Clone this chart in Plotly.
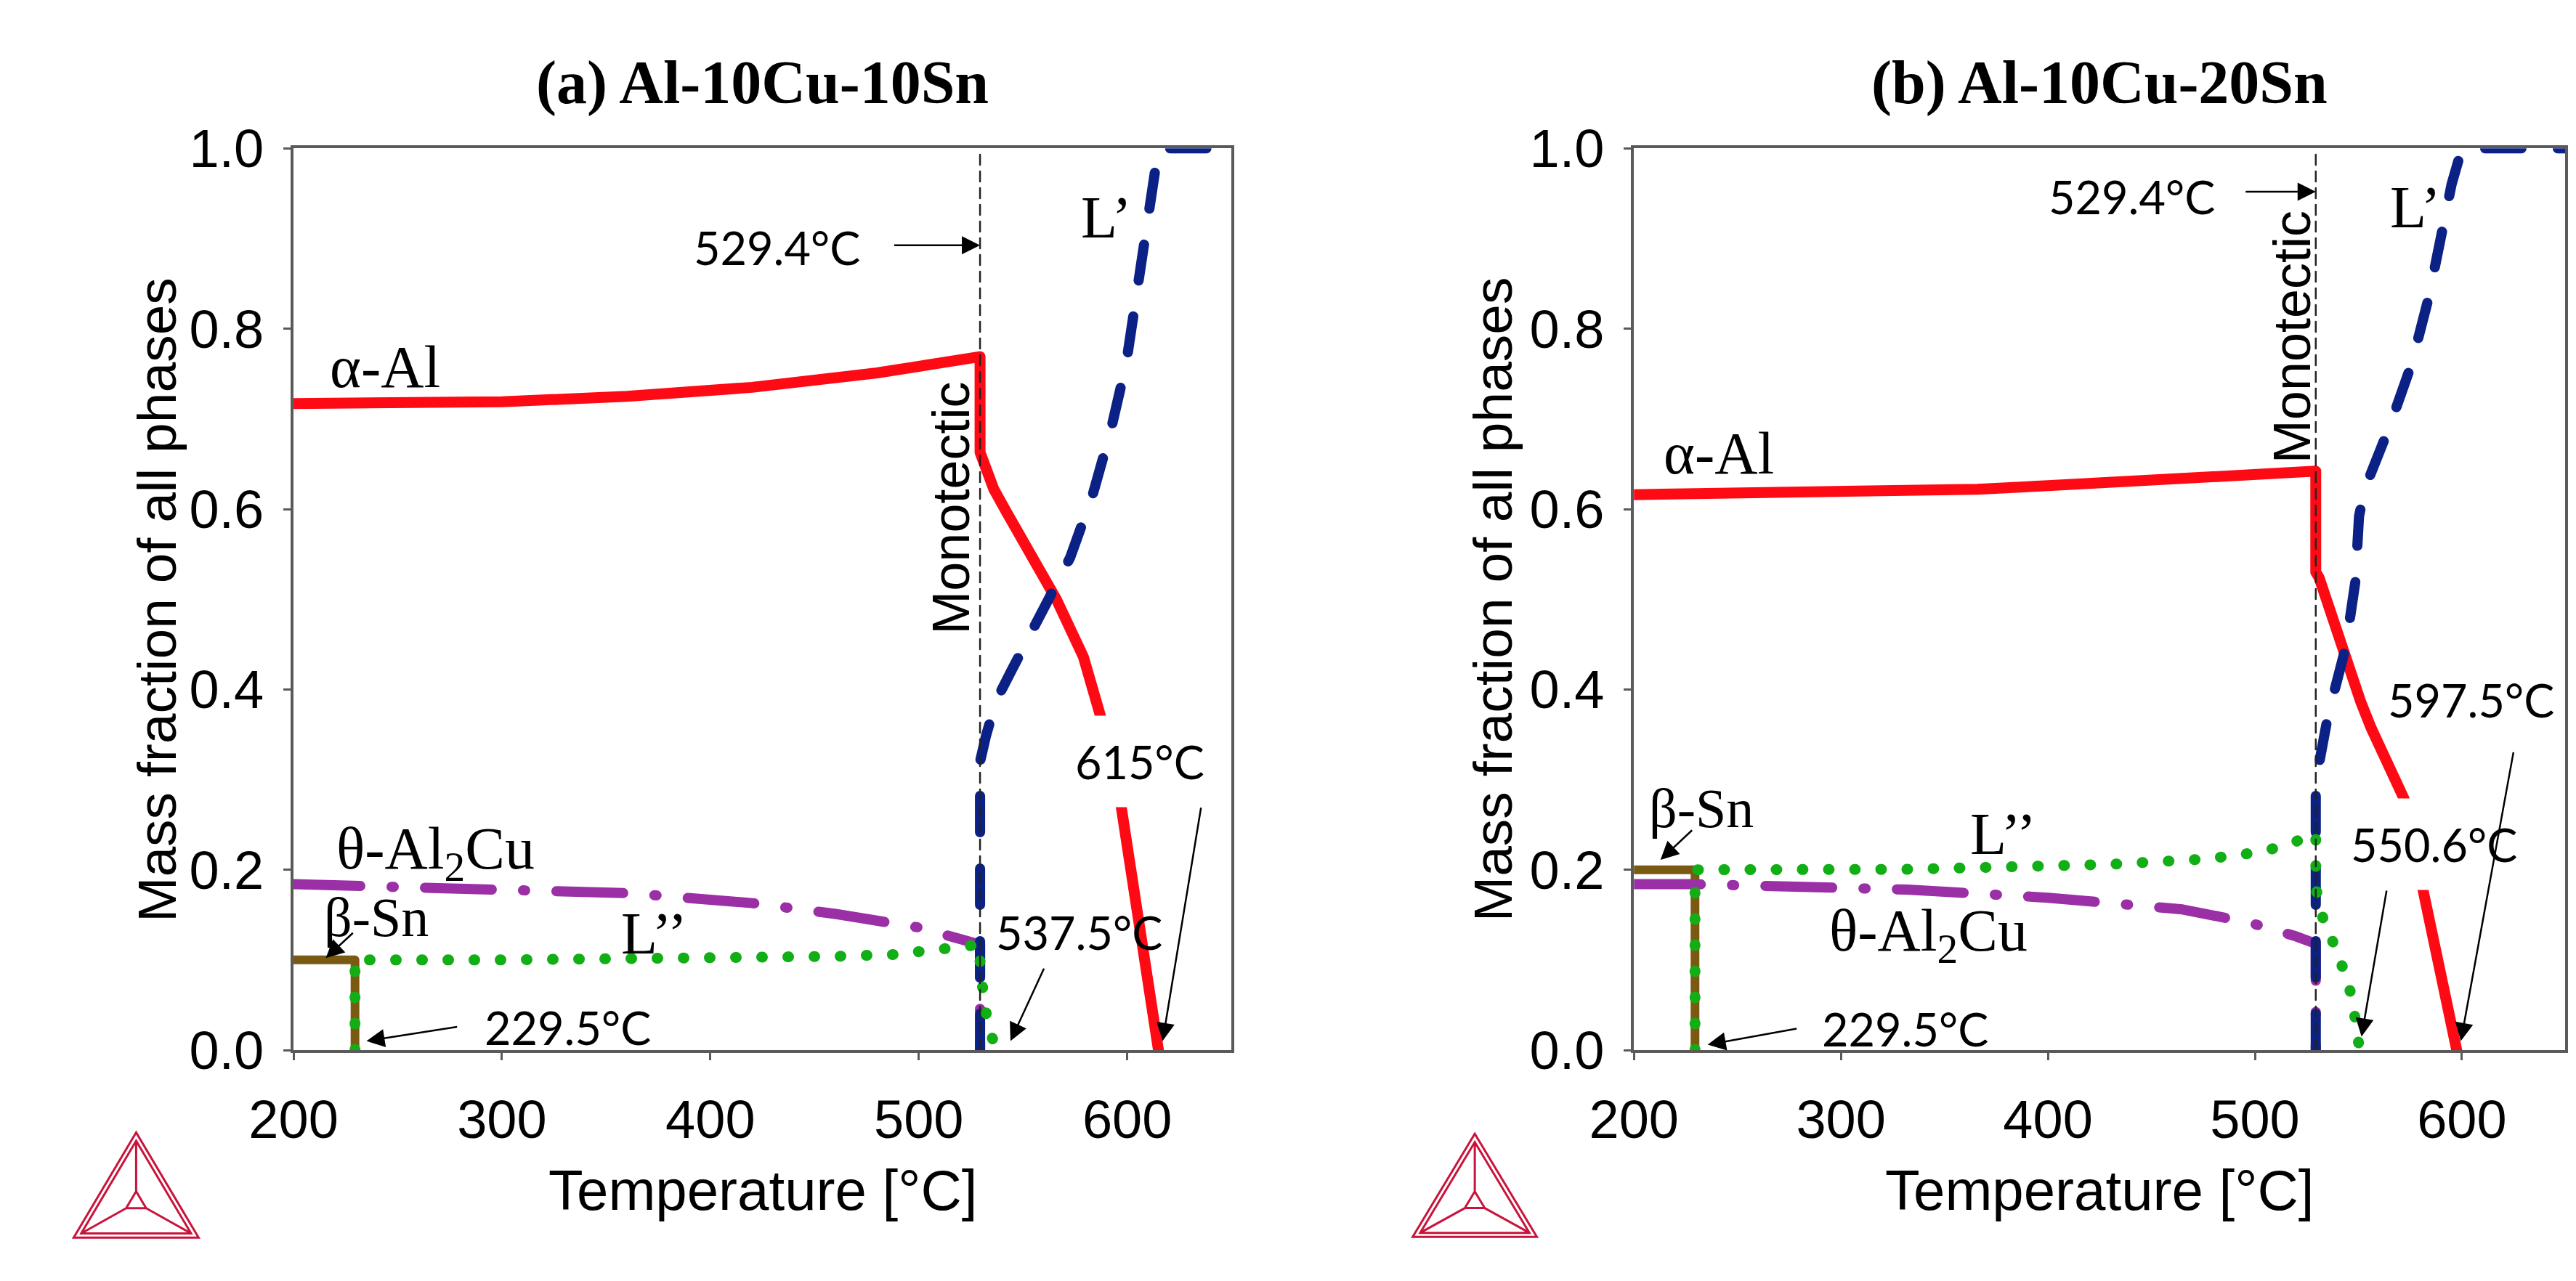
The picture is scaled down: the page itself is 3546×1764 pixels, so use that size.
import plotly.graph_objects as go

# ---- data ----
T_MONO = 529.4

# (a) Al-10Cu-10Sn
alpha_a_T = [200, 250, 300, 360, 420, 480, 510, 529.4, 529.4, 536, 542, 566, 579, 587, 597, 606, 615]
alpha_a_f = [0.717, 0.717, 0.719, 0.725, 0.735, 0.751, 0.761, 0.769, 0.663, 0.622, 0.597, 0.500, 0.436, 0.372, 0.272, 0.135, 0.0]
liq1_a_T = [529.4, 529.4, 532.2, 537, 544.5, 556.7, 572.6, 583.6, 592.2, 599.5, 604.4, 609.3, 613, 615, 650]
liq1_a_f = [0.0, 0.32, 0.348, 0.387, 0.421, 0.477, 0.546, 0.617, 0.688, 0.761, 0.837, 0.911, 0.985, 1.0, 1.0]
theta_a_T = [200, 282, 361, 420, 460, 500, 519, 529.4, 529.4]
theta_a_f = [0.184, 0.180, 0.174, 0.163, 0.151, 0.136, 0.124, 0.117, 0.0]
liq2_a_T = [229.5, 229.5, 300, 400, 461, 488, 512, 520, 529.4, 529.4, 531, 533, 535, 537.5]
liq2_a_f = [0.0, 0.100, 0.100, 0.101, 0.104, 0.106, 0.111, 0.113, 0.117, 0.09, 0.055, 0.03, 0.015, 0.0]
sn_a_T = [200, 229.5, 229.5]
sn_a_f = [0.10, 0.10, 0.0]

# (b) Al-10Cu-20Sn
alpha_b_T = [200, 300, 366, 400, 450, 506, 529.4, 529.4, 531, 551, 556, 572, 576, 581, 597.5]
alpha_b_f = [0.616, 0.619, 0.622, 0.626, 0.633, 0.641, 0.642, 0.530, 0.524, 0.387, 0.358, 0.279, 0.240, 0.180, 0.0]
liq1_b_T = [529.4, 529.4, 530.7, 535.4, 543.8, 548.5, 550.3, 553, 565.3, 575.7, 584, 590.6, 595, 600, 650]
liq1_b_f = [0.0, 0.29, 0.314, 0.372, 0.446, 0.519, 0.592, 0.622, 0.693, 0.761, 0.835, 0.908, 0.96, 1.0, 1.0]
theta_b_T = [200, 230, 332, 400, 465, 498, 520, 529.4, 529.4]
theta_b_f = [0.184, 0.184, 0.178, 0.169, 0.156, 0.141, 0.126, 0.118, 0.0]
liq2_b_T = [229.5, 229.5, 332, 430, 477, 502, 515, 526, 529.4, 529.4, 533, 536, 540, 544, 547, 549, 550.6]
liq2_b_f = [0.0, 0.200, 0.2005, 0.206, 0.212, 0.2195, 0.227, 0.238, 0.240, 0.180, 0.145, 0.130, 0.108, 0.082, 0.057, 0.031, 0.0]
sn_b_T = [200, 229.5, 229.5]
sn_b_f = [0.20, 0.20, 0.0]

x_ticks = [200, 300, 400, 500, 600]
y_ticks = [0.0, 0.2, 0.4, 0.6, 0.8, 1.0]

RED = '#fe0a14'
BLUE = '#0b2185'
PURPLE = '#9a2fa6'
GREEN = '#12ae16'
BROWN = '#7a5a12'

SANS = 'Liberation Sans'
SERIF = 'Liberation Serif'
NUM = 'Lato'

fig = go.Figure()


def add_panel(xa, ya, alpha, liq1, theta, liq2, sn):
    # order matters: later traces sit on top
    fig.add_trace(go.Scatter(x=sn[0], y=sn[1], mode='lines', xaxis=xa, yaxis=ya,
                             line=dict(color=BROWN, width=12)))
    fig.add_trace(go.Scatter(x=theta[0], y=theta[1], mode='lines', xaxis=xa, yaxis=ya,
                             line=dict(color=PURPLE, width=14, dash='92px,43px,3px,43px')))
    fig.add_trace(go.Scatter(x=alpha[0], y=alpha[1], mode='lines', xaxis=xa, yaxis=ya,
                             line=dict(color=RED, width=15)))
    fig.add_trace(go.Scatter(x=liq1[0], y=liq1[1], mode='lines', xaxis=xa, yaxis=ya,
                             line=dict(color=BLUE, width=14, dash='50px,50px')))
    fig.add_trace(go.Scatter(x=liq2[0], y=liq2[1], mode='lines', xaxis=xa, yaxis=ya,
                             line=dict(color=GREEN, width=15, dash='1px,35px')))
    # monotectic temperature
    fig.add_trace(go.Scatter(x=[T_MONO, T_MONO], y=[0, 1], mode='lines', xaxis=xa, yaxis=ya,
                             line=dict(color='#222222', width=2.5, dash='14px,9px')))


add_panel('x', 'y', (alpha_a_T, alpha_a_f), (liq1_a_T, liq1_a_f), (theta_a_T, theta_a_f),
          (liq2_a_T, liq2_a_f), (sn_a_T, sn_a_f))
add_panel('x2', 'y2', (alpha_b_T, alpha_b_f), (liq1_b_T, liq1_b_f), (theta_b_T, theta_b_f),
          (liq2_b_T, liq2_b_f), (sn_b_T, sn_b_f))

W, H = 3546, 1764
y_dom = [1 - 1466 / H, 1 - 163 / H]

axis_common = dict(showline=True, mirror=True, linecolor='#5a5a5a', linewidth=4,
                   showgrid=False, zeroline=False, ticks='outside', ticklen=10,
                   tickwidth=3, tickcolor='#5a5a5a',
                   tickfont=dict(family=SANS, size=74, color='black'))

fig.update_layout(
    width=W, height=H,
    margin=dict(l=0, r=0, t=0, b=0),
    paper_bgcolor='white', plot_bgcolor='white',
    showlegend=False,
    xaxis=dict(domain=[340 / W, 1654 / W], range=[200, 650], tickvals=x_ticks,
               anchor='y', ticklabelstandoff=18, **axis_common),
    yaxis=dict(domain=y_dom, range=[0, 1], tickvals=y_ticks, tickformat='.1f',
               anchor='x', ticklabelstandoff=12, **axis_common),
    xaxis2=dict(domain=[2218 / W, 3523 / W], range=[200, 650], tickvals=x_ticks,
                anchor='y2', ticklabelstandoff=18, **axis_common),
    yaxis2=dict(domain=y_dom, range=[0, 1], tickvals=y_ticks, tickformat='.1f',
                anchor='x2', ticklabelstandoff=12, **axis_common),
)

ann = []


def label(xr, yr, x, y, text, family, size, angle=0, bg=None):
    d = dict(xref=xr, yref=yr, x=x, y=y, text=text, showarrow=False,
             xanchor='center', yanchor='middle', textangle=angle,
             font=dict(family=family, size=size, color='black'))
    if bg:
        d.update(bgcolor=bg, borderpad=25)
    ann.append(d)


def arrow(xr, yr, head, tail):
    ann.append(dict(xref=xr, yref=yr, axref=xr, ayref=yr, x=head[0], y=head[1],
                    ax=tail[0], ay=tail[1], text='', showarrow=True,
                    arrowhead=2, arrowsize=2, arrowwidth=2.5, arrowcolor='black'))


# panel (a)
label('x', 'y', 432, 0.890, '529.4°C', NUM, 63)
label('x', 'y', 515.4, 0.601, 'Monotectic', SANS, 72, angle=-90)
label('x', 'y', 590, 0.923, 'L’', SERIF, 82)
label('x', 'y', 244, 0.7575, 'α-Al', SERIF, 82)
label('x', 'y', 268, 0.219, 'θ-Al<sub>2</sub>Cu', SERIF, 82)
label('x', 'y', 239.7, 0.147, 'β-Sn', SERIF, 76)
label('x', 'y', 373, 0.129, 'L’’', SERIF, 82)
label('x', 'y', 577, 0.131, '537.5°C', NUM, 63)
label('x', 'y', 606, 0.32, '615°C', NUM, 63, bg='white')
label('x', 'y', 331.7, 0.025, '229.5°C', NUM, 63)

# panel (b)
label('x2', 'y2', 440.6, 0.947, '529.4°C', NUM, 63)
label('x2', 'y2', 518, 0.791, 'Monotectic', SANS, 72, angle=-90)
label('x2', 'y2', 577.5, 0.935, 'L’', SERIF, 82)
label('x2', 'y2', 240.9, 0.6615, 'α-Al', SERIF, 82)
label('x2', 'y2', 604.5, 0.389, '597.5°C', NUM, 63)
label('x2', 'y2', 586.5, 0.2287, '550.6°C', NUM, 63, bg='white')
label('x2', 'y2', 378.5, 0.24, 'L’’', SERIF, 82)
label('x2', 'y2', 342.4, 0.128, 'θ-Al<sub>2</sub>Cu', SERIF, 82)
label('x2', 'y2', 232.6, 0.268, 'β-Sn', SERIF, 76)
label('x2', 'y2', 331, 0.024, '229.5°C', NUM, 63)

# arrows drawn after the labels so they sit on top
arrow('x', 'y', (T_MONO, 0.8925), (487.7, 0.8925))
arrow('x', 'y', (617, 0.01), (635.5, 0.27))
arrow('x', 'y', (544, 0.01), (560.3, 0.0916))
arrow('x', 'y', (235, 0.01), (279, 0.026))
arrow('x', 'y', (215.5, 0.102), (229, 0.131))

arrow('x2', 'y2', (T_MONO, 0.952), (495, 0.952))
arrow('x2', 'y2', (599.5, 0.01), (625, 0.3315))
arrow('x2', 'y2', (551.5, 0.015), (563.7, 0.178))
arrow('x2', 'y2', (235.6, 0.006), (279.1, 0.024))
arrow('x2', 'y2', (212.8, 0.211), (228.6, 0.245))

# titles and axis titles
for cx, title in [(997, '(a) Al-10Cu-10Sn'), (2870, '(b) Al-10Cu-20Sn')]:
    ann.append(dict(xref='paper', yref='paper', x=cx / W, y=1 - 68 / H, showarrow=False,
                    text='<b>' + title + '</b>', xanchor='center', yanchor='middle',
                    font=dict(family=SERIF, size=84, color='black')))
    ann.append(dict(xref='paper', yref='paper', x=cx / W, y=1 - 1668 / H, showarrow=False,
                    text='Temperature [°C]', xanchor='center', yanchor='middle',
                    font=dict(family=SANS, size=78, color='black')))
for cx in [148, 2020]:
    ann.append(dict(xref='paper', yref='paper', x=cx / W, y=1 - 815 / H, showarrow=False,
                    text='Mass fraction of all phases', textangle=-90,
                    xanchor='center', yanchor='middle',
                    font=dict(family=SANS, size=75, color='black')))

fig.update_layout(annotations=ann)


# Thermo-Calc style logo in the lower left corner of each panel
def logo(left, bottom, w, h):
    def p(px, py):
        return '%.5f,%.5f' % (px / W, 1 - py / H)
    apex = (left + w / 2, bottom - h)
    bl = (left, bottom)
    br = (left + w, bottom)
    cx, cy = left + w / 2, bottom - h / 3
    paths = []
    for s in (1.0, 0.88, 0.16):
        pts = [(cx + (q[0] - cx) * s, cy + (q[1] - cy) * s) for q in (apex, bl, br)]
        paths.append('M' + p(*pts[0]) + 'L' + p(*pts[1]) + 'L' + p(*pts[2]) + 'Z')
        if s == 0.88:
            outer = pts
        if s == 0.16:
            inner = pts
    for a, b in zip(inner, outer):
        paths.append('M' + p(*a) + 'L' + p(*b))
    return dict(type='path', xref='paper', yref='paper', path=' '.join(paths),
                line=dict(color='#c8143c', width=3))


fig.update_layout(shapes=[logo(32, 1737, 175, 152), logo(1908, 1736, 174, 149)])

round_caps = ("var s=document.createElement('style');"
              "s.innerHTML='.scatterlayer .js-line{stroke-linecap:round;stroke-linejoin:round;}';"
              "document.head.appendChild(s);")
fig.write_html("out.html", post_script=round_caps)
